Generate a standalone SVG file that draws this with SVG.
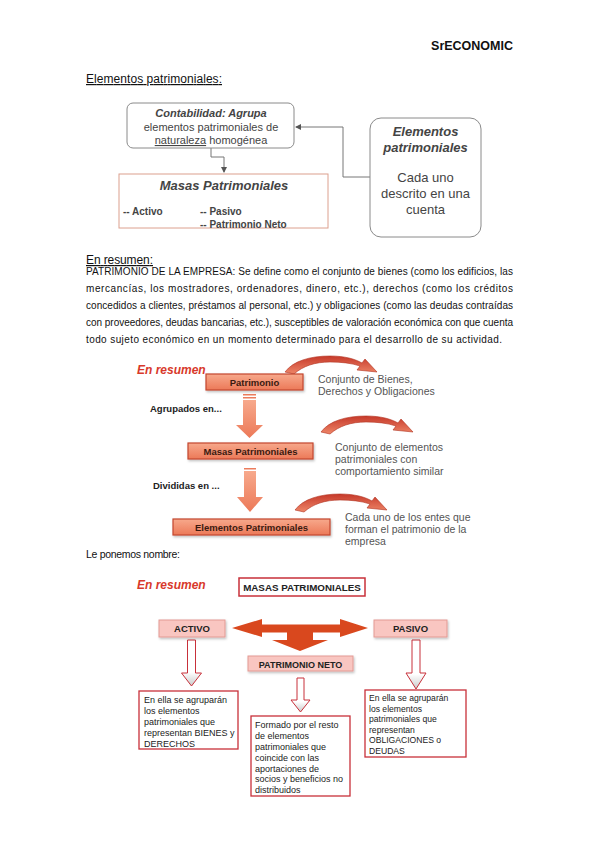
<svg xmlns="http://www.w3.org/2000/svg" width="599" height="848" viewBox="0 0 599 848">
<style>
.doc{font-family:"Liberation Sans",Arial,sans-serif;fill:#111}
.dg{font-family:"Liberation Sans",Arial,sans-serif}
.gray{fill:#444}
.conn{fill:none;stroke:#777;stroke-width:1}
.salmon{fill:url(#salGrad);stroke:#c4472f;stroke-width:1.2}
.pink{fill:#f9c6c1;stroke:#e39a93;stroke-width:1}
.redbox{fill:#fff;stroke:#c8303a;stroke-width:1.3}
.hollow{fill:url(#hollowGrad);stroke:#c8303a;stroke-width:1}
.curl{fill:url(#curlGrad);stroke:#b0301f;stroke-width:0.6}
.red{fill:#d8392b;font-weight:bold;font-style:italic}
.b{font-weight:bold}
.bi{font-weight:bold;font-style:italic}
</style>
<defs>
<linearGradient id="salGrad" x1="0" y1="0" x2="0" y2="1">
<stop offset="0" stop-color="#f7a98c"/><stop offset="1" stop-color="#ec7958"/>
</linearGradient>
<linearGradient id="hollowGrad" x1="0" y1="0" x2="0" y2="1">
<stop offset="0" stop-color="#ffffff"/><stop offset="0.7" stop-color="#ffffff"/><stop offset="1" stop-color="#c9c9c9"/>
</linearGradient>
<linearGradient id="curlGrad" x1="0" y1="0" x2="0" y2="1">
<stop offset="0" stop-color="#c6392a"/><stop offset="1" stop-color="#ee8668"/>
</linearGradient>
<path id="curl" d="M0,16 C8,5 25,0 45,0 C60,0 70,3 77,7 L80,3 L92,16 L72,14 L75,10 C66,7 56,6 45,6 C30,6 18,10 9,18 Z"/>
<marker id="ah" viewBox="0 0 6 6" refX="5" refY="3" markerWidth="6" markerHeight="6" orient="auto" markerUnits="userSpaceOnUse">
<path d="M0,0 L6,3 L0,6 Z" fill="#555"/>
</marker>
<filter id="sh" x="-10%" y="-10%" width="130%" height="140%">
<feDropShadow dx="1" dy="1.5" stdDeviation="0.8" flood-color="#000" flood-opacity="0.25"/>
</filter>
</defs>
<rect width="599" height="848" fill="#fff"/>

<!-- Document text -->
<g id="header">
<text class="doc b" x="513" y="50" font-size="12.5" text-anchor="end">SrECONOMIC</text>
<text class="doc" x="86" y="83" font-size="12" textLength="136" lengthAdjust="spacing" text-decoration="underline">Elementos patrimoniales:</text>
</g>

<!-- Top diagram -->
<g id="top-connectors">
<path class="conn" d="M211,148 V157 H224 V172" marker-end="url(#ah)"/>
<path class="conn" d="M370,177 H343 V127 H296" marker-end="url(#ah)"/>
</g>
<g id="contabilidad">
<rect x="127" y="103" width="167" height="45" rx="6" fill="#fff" stroke="#8a8a8a" stroke-width="1"/>
<text class="dg gray" font-size="11" text-anchor="middle"><tspan class="bi" x="211" y="117">Contabilidad: Agrupa</tspan><tspan x="211" y="131">elementos patrimoniales de</tspan><tspan x="211" y="144"><tspan text-decoration="underline">naturaleza</tspan> homogénea</tspan></text>
</g>
<g id="masas-top">
<rect x="119" y="174" width="209" height="54" fill="#fff" stroke="#dca08e" stroke-width="1"/>
<text class="dg bi gray" x="224" y="190" font-size="13" text-anchor="middle">Masas Patrimoniales</text>
<text class="dg b gray" font-size="10"><tspan x="123" y="215">-- Activo</tspan><tspan x="200" y="215">-- Pasivo</tspan><tspan x="200" y="228">-- Patrimonio Neto</tspan></text>
</g>
<g id="elementos-top">
<rect x="370" y="118" width="111" height="119" rx="11" fill="#fff" stroke="#8a8a8a" stroke-width="1"/>
<text class="dg gray" font-size="13" text-anchor="middle"><tspan class="bi" x="425.5" y="136">Elementos</tspan><tspan class="bi" x="425.5" y="152">patrimoniales</tspan><tspan x="425.5" y="182">Cada uno</tspan><tspan x="425.5" y="198">descrito en una</tspan><tspan x="425.5" y="214">cuenta</tspan></text>
</g>

<g id="resumen-text">
<text class="doc" x="86" y="264" font-size="12" textLength="67" lengthAdjust="spacing" text-decoration="underline">En resumen:</text>
<text class="doc" font-size="10" lengthAdjust="spacing">
<tspan x="86" y="275" textLength="427">PATRIMONIO DE LA EMPRESA: Se define como el conjunto de bienes (como los edificios, las</tspan>
<tspan x="86" y="292" textLength="427">mercancías, los mostradores, ordenadores, dinero, etc.), derechos (como los créditos</tspan>
<tspan x="86" y="309" textLength="427">concedidos a clientes, préstamos al personal, etc.) y obligaciones (como las deudas contraídas</tspan>
<tspan x="86" y="326" textLength="427">con proveedores, deudas bancarias, etc.), susceptibles de valoración económica con que cuenta</tspan>
<tspan x="86" y="343" textLength="416">todo sujeto económico en un momento determinado para el desarrollo de su actividad.</tspan>
</text>
</g>

<!-- Middle diagram -->
<g id="mid-connectors">
<rect x="243" y="394" width="13" height="1.5" fill="#ec7c5c"/>
<rect x="243" y="397" width="13" height="1.5" fill="#ec7c5c"/>
<path d="M243,400 H256 V425 H263 L249.5,438 L236,425 H243 Z" fill="url(#salGrad)"/>
<rect x="244" y="468" width="12" height="1.5" fill="#ec7c5c"/>
<path d="M244,471 H256 V497 H263 L250,512 L237,497 H244 Z" fill="url(#salGrad)"/>
<use href="#curl" class="curl" transform="translate(285,356)"/>
<use href="#curl" class="curl" transform="translate(321,416)"/>
<use href="#curl" class="curl" transform="translate(295,494)"/>
</g>
<text class="dg red" x="137" y="374" font-size="12">En resumen</text>
<g id="patrimonio">
<rect class="salmon" x="206" y="374" width="97" height="16" filter="url(#sh)"/>
<text class="dg b" x="254.5" y="386" font-size="9.5" fill="#3a1a10" text-anchor="middle">Patrimonio</text>
</g>
<text class="dg" font-size="10.5" fill="#555"><tspan x="318" y="383">Conjunto de Bienes,</tspan><tspan x="318" y="395">Derechos y Obligaciones</tspan></text>
<text class="dg b" x="150" y="412" font-size="9.5" fill="#222">Agrupados en...</text>
<g id="masas-mid">
<rect class="salmon" x="188" y="443" width="125" height="16" filter="url(#sh)"/>
<text class="dg b" x="250.5" y="455" font-size="9.5" fill="#3a1a10" text-anchor="middle">Masas Patrimoniales</text>
</g>
<text class="dg" font-size="10.5" fill="#555"><tspan x="335" y="451">Conjunto de elementos</tspan><tspan x="335" y="463">patrimoniales con</tspan><tspan x="335" y="475">comportamiento similar</tspan></text>
<text class="dg b" x="153" y="489" font-size="9.5" fill="#222">Divididas en ...</text>
<g id="elementos-mid">
<rect class="salmon" x="173" y="519" width="157" height="16" filter="url(#sh)"/>
<text class="dg b" x="251.5" y="531" font-size="9.5" fill="#3a1a10" text-anchor="middle">Elementos Patrimoniales</text>
</g>
<text class="dg" font-size="10.5" fill="#555"><tspan x="345" y="521">Cada uno de los entes que</tspan><tspan x="345" y="533">forman el patrimonio de la</tspan><tspan x="345" y="545">empresa</tspan></text>

<text class="doc" x="86" y="558" font-size="10.5" textLength="94" lengthAdjust="spacing">Le ponemos nombre:</text>

<!-- Bottom diagram -->
<text class="dg red" x="137" y="589" font-size="12">En resumen</text>
<g id="bottom-connectors">
<path d="M232,628 L262,619 V624.5 H340 V619 L368,628 L340,637 V632.5 H313 V640 H328 L300,651 L272,640 H287 V632.5 H262 V637 Z" fill="#d9481e"/>
<path class="hollow" d="M187.5,640 H195.5 V673 H201.5 L191.5,686 L181.5,673 H187.5 Z"/>
<path class="hollow" d="M297,678 H304 V700 H310 L300.5,712 L291,700 H297 Z"/>
<path class="hollow" d="M412,640 H420 V673 H426 L416,689 L406,673 H412 Z"/>
</g>
<g id="masas-bottom">
<rect x="239" y="578" width="126" height="18" fill="#fff" stroke="#c8303a" stroke-width="1.5"/>
<text class="dg b" x="302" y="591" font-size="9.8" fill="#222" text-anchor="middle">MASAS PATRIMONIALES</text>
</g>
<g id="activo">
<rect class="pink" x="159" y="620" width="66" height="17" filter="url(#sh)"/>
<text class="dg b" x="192" y="632" font-size="9.5" fill="#222" text-anchor="middle">ACTIVO</text>
</g>
<g id="pasivo">
<rect class="pink" x="374" y="620" width="73" height="17" filter="url(#sh)"/>
<text class="dg b" x="410.5" y="632" font-size="9.5" fill="#222" text-anchor="middle">PASIVO</text>
</g>
<g id="patrimonio-neto">
<rect class="pink" x="248" y="656" width="105" height="15" filter="url(#sh)"/>
<text class="dg b" x="300.5" y="667.5" font-size="9" fill="#222" text-anchor="middle">PATRIMONIO NETO</text>
</g>
<g id="activo-desc">
<rect class="redbox" x="139" y="691" width="99" height="58"/>
<text class="dg" font-size="9" fill="#222"><tspan x="144" y="703">En ella se agruparán</tspan><tspan x="144" y="714">los elementos</tspan><tspan x="144" y="725">patrimoniales que</tspan><tspan x="144" y="736">representan BIENES y</tspan><tspan x="144" y="747">DERECHOS</tspan></text>
</g>
<g id="pn-desc">
<rect class="redbox" x="251" y="716" width="99" height="80"/>
<text class="dg" font-size="9" fill="#222"><tspan x="255" y="728">Formado por el resto</tspan><tspan x="255" y="739">de elementos</tspan><tspan x="255" y="750">patrimoniales que</tspan><tspan x="255" y="761">coincide con las</tspan><tspan x="255" y="771.5">aportaciones de</tspan><tspan x="255" y="782">socios y beneficios no</tspan><tspan x="255" y="793">distribuidos</tspan></text>
</g>
<g id="pasivo-desc">
<rect class="redbox" x="365" y="690" width="101" height="67"/>
<text class="dg" font-size="8.6" fill="#222"><tspan x="369" y="701">En ella se agruparán</tspan><tspan x="369" y="711.5">los elementos</tspan><tspan x="369" y="722">patrimoniales que</tspan><tspan x="369" y="732.5">representan</tspan><tspan x="369" y="743">OBLIGACIONES o</tspan><tspan x="369" y="753.5">DEUDAS</tspan></text>
</g>
</svg>
